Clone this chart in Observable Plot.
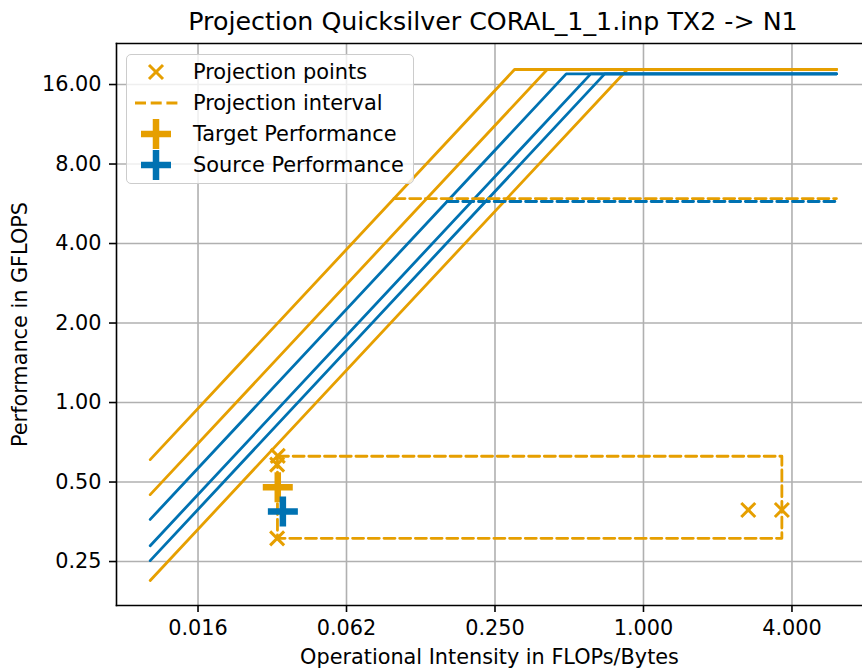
<!DOCTYPE html>
<html>
<head>
<meta charset="utf-8">
<script src="https://cdn.jsdelivr.net/npm/d3@7"></script>
<script src="https://cdn.jsdelivr.net/npm/@observablehq/plot@0.6"></script>
<style>
  html, body { margin: 0; padding: 0; background: white; overflow: hidden; }
  #wrap { position: relative; width: 862px; height: 668px; font-family: "DejaVu Sans", sans-serif; }
  #title { position: absolute; left: 116px; width: 754px; top: 0; height: 42px; line-height: 44px;
           text-align: center; font-size: 25.3px; color: black; white-space: nowrap; }
  #chart { position: absolute; left: 0; top: 42px; }
  #legend { position: absolute; left: 126px; top: 54px; width: 286px; height: 128px;
            border: 1.6px solid #cccccc; border-radius: 5px; background: rgba(255,255,255,0.8); }
  .row { position: absolute; left: 0; height: 30px; width: 286px; }
  .row svg { position: absolute; left: 4px; top: 0; }
  .row span { position: absolute; left: 66px; top: 0; line-height: 30px; font-size: 20.9px; color: black; white-space: nowrap; }
</style>
</head>
<body>
<div id="wrap">
  <div id="title">Projection Quicksilver CORAL_1_1.inp TX2 -&gt; N1</div>
  <div id="chart"></div>
  <div id="legend"></div>
</div>
<script>
// ---- data ----
const orange = "#E69F00";
const blue = "#0072B2";

const xStart = 0.01;          // roofline start (FLOPs/Byte)
const xEnd = 6.06;            // roofline end

const targetBandwidths = [60.8, 44.8, 21.2];   // GB/s
const targetPeak = 18.24;                      // GFLOPS
const sourceBandwidths = [36.1, 28.7, 25.2];
const sourcePeak = 17.55;

const targetCeiling = 5.92;   // dashed ceiling (target)
const sourceCeiling = 5.77;   // dashed ceiling (source)

const projX = [0.0329, 0.0327, 0.0327, 2.66, 3.64];
const projY = [0.628, 0.582, 0.306, 0.392, 0.392];

const intervalX = [0.0328, 3.64];
const intervalY = [0.306, 0.626];

const targetPerf = {x: 0.0329, y: 0.478};
const sourcePerf = {x: 0.0345, y: 0.387};

const xTicks = [2**-6, 2**-4, 2**-2, 1, 4];
const xTickLabels = ["0.016", "0.062", "0.250", "1.000", "4.000"];
const yTicks = [0.25, 0.5, 1, 2, 4, 8, 16];
const yTickLabels = ["0.25", "0.50", "1.00", "2.00", "4.00", "8.00", "16.00"];

const legendLabels = ["Projection points", "Projection interval", "Target Performance", "Source Performance"];

// ---- derived tables ----
function roofline(bws, peak, group) {
  const out = [];
  bws.forEach((bw, i) => {
    out.push({g: group + i, x: xStart, y: bw * xStart});
    out.push({g: group + i, x: peak / bw, y: peak});
    out.push({g: group + i, x: xEnd, y: peak});
  });
  return out;
}
const targetRoof = roofline(targetBandwidths, targetPeak, "t");
const sourceRoof = roofline(sourceBandwidths, sourcePeak, "s");

const targetCeil = [{x: targetCeiling / Math.max(...targetBandwidths), y: targetCeiling}, {x: xEnd, y: targetCeiling}];
const sourceCeil = [{x: sourceCeiling / Math.max(...sourceBandwidths), y: sourceCeiling}, {x: xEnd, y: sourceCeiling}];

const intervalPath = [
  {x: intervalX[0], y: intervalY[1]}, {x: intervalX[1], y: intervalY[1]},
  {x: intervalX[1], y: intervalY[0]}, {x: intervalX[0], y: intervalY[0]},
  {x: intervalX[0], y: intervalY[1]}
];
const projPoints = projX.map((x, i) => ({x, y: projY[i]}));

const plusSymbol = {draw(ctx, size) { const r = Math.sqrt(size / Math.PI);
  ctx.moveTo(-r, 0); ctx.lineTo(r, 0); ctx.moveTo(0, -r); ctx.lineTo(0, r); }};
const timesSymbol = {draw(ctx, size) { const r = Math.sqrt(size / Math.PI);
  ctx.moveTo(-r, -r); ctx.lineTo(r, r); ctx.moveTo(-r, r); ctx.lineTo(r, -r); }};

const dash = "11,4.7";
const fs = 20.8;
const lw = 2.8;

const plot = Plot.plot({
  width: 862, height: 626,
  marginLeft: 116, marginRight: 0, marginTop: 1, marginBottom: 63,
  style: {fontFamily: "DejaVu Sans", fontSize: fs + "px", color: "black", background: "white", overflow: "visible"},
  x: {type: "log", base: 2, domain: [2 ** -7.098, 2 ** 2.95]},
  y: {type: "log", base: 2, domain: [2 ** -2.553, 2 ** 4.516]},
  marks: [
    Plot.gridX(xTicks, {stroke: "#b0b0b0", strokeOpacity: 1, strokeWidth: 1.6}),
    Plot.gridY(yTicks, {stroke: "#b0b0b0", strokeOpacity: 1, strokeWidth: 1.6}),
    Plot.line(targetRoof, {x: "x", y: "y", z: "g", stroke: orange, strokeWidth: lw}),
    Plot.line(sourceRoof, {x: "x", y: "y", z: "g", stroke: blue, strokeWidth: lw}),
    Plot.line(targetCeil, {x: "x", y: "y", stroke: orange, strokeWidth: lw, strokeDasharray: dash}),
    Plot.line(sourceCeil, {x: "x", y: "y", stroke: blue, strokeWidth: lw, strokeDasharray: dash}),
    Plot.line(intervalPath, {x: "x", y: "y", stroke: orange, strokeWidth: lw, strokeDasharray: dash}),
    Plot.dot(projPoints, {x: "x", y: "y", symbol: timesSymbol, r: 7, fill: "none", stroke: orange, strokeWidth: 3}),
    Plot.dot([targetPerf], {x: "x", y: "y", symbol: plusSymbol, r: 15, fill: "none", stroke: orange, strokeWidth: 6.5}),
    Plot.dot([sourcePerf], {x: "x", y: "y", symbol: plusSymbol, r: 15, fill: "none", stroke: blue, strokeWidth: 6.5}),
    Plot.axisX({ticks: xTicks, tickFormat: d => xTickLabels[xTicks.indexOf(d)], tickSize: 7, tickPadding: 8, strokeWidth: 1.6, label: null, fontSize: fs}),
    Plot.axisY({ticks: yTicks, tickFormat: d => yTickLabels[yTicks.indexOf(d)], tickSize: 7, tickPadding: 8, strokeWidth: 1.6, label: null, fontSize: fs}),
    Plot.frame({anchor: "top", stroke: "black", strokeWidth: 1.6}),
    Plot.frame({anchor: "left", stroke: "black", strokeWidth: 1.6}),
    Plot.frame({anchor: "bottom", stroke: "black", strokeWidth: 1.6}),
    Plot.text(["Performance in GFLOPS"], {text: d => d, frameAnchor: "left", dx: -96, rotate: -90, textAnchor: "middle", lineAnchor: "middle", fontSize: fs}),
    Plot.text(["Operational Intensity in FLOPs/Bytes"], {text: d => d, frameAnchor: "bottom", dy: 52, textAnchor: "middle", lineAnchor: "middle", fontSize: fs})
  ]
});
document.getElementById("chart").appendChild(plot);

// ---- legend ----
const legend = document.getElementById("legend");
const swatches = [
  `<line x1="-7" y1="-7" x2="7" y2="7" stroke="${orange}" stroke-width="3"/><line x1="-7" y1="7" x2="7" y2="-7" stroke="${orange}" stroke-width="3"/>`,
  `<line x1="-21" y1="0" x2="23" y2="0" stroke="${orange}" stroke-width="${lw}" stroke-dasharray="${dash}"/>`,
  `<line x1="-15" y1="0" x2="15" y2="0" stroke="${orange}" stroke-width="6.5"/><line x1="0" y1="-15" x2="0" y2="15" stroke="${orange}" stroke-width="6.5"/>`,
  `<line x1="-15" y1="0" x2="15" y2="0" stroke="${blue}" stroke-width="6.5"/><line x1="0" y1="-15" x2="0" y2="15" stroke="${blue}" stroke-width="6.5"/>`
];
const rowTops = [2, 32.5, 63.5, 94.5];
legendLabels.forEach((lab, i) => {
  const row = document.createElement("div");
  row.className = "row";
  row.style.top = rowTops[i] + "px";
  row.innerHTML = `<svg width="50" height="34" viewBox="-25 -17 50 34" style="top:-2px;overflow:visible">${swatches[i]}</svg><span>${lab}</span>`;
  legend.appendChild(row);
});
</script>
</body>
</html>
